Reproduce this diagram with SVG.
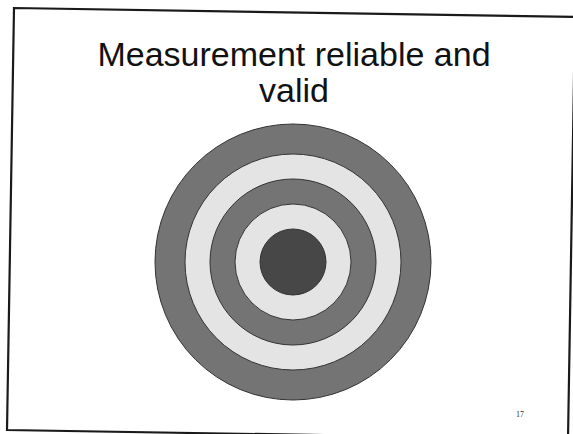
<svg xmlns="http://www.w3.org/2000/svg" width="573" height="434" viewBox="0 0 573 434">
<style>
.title{font-family:"Liberation Sans",Arial,sans-serif;font-size:34px;fill:#111;text-anchor:middle}
.ring{stroke:#333;stroke-width:1}
.dark{fill:#747474}
.light{fill:#e4e4e4}
</style>
<rect width="573" height="434" fill="#fff"/>
<polygon id="frame" points="14,8 575,17 568,439 7,430" fill="none" stroke="#1a1a1a" stroke-width="2.2"/>
<g id="title">
<text class="title" x="294" y="66">Measurement reliable and</text>
<text class="title" x="294" y="102">valid</text>
</g>
<g id="target">
<circle class="ring dark" cx="293" cy="262" r="138"/>
<circle class="ring light" cx="293" cy="262" r="108"/>
<circle class="ring dark" cx="293" cy="262" r="83"/>
<circle class="ring light" cx="293" cy="262" r="58"/>
<circle class="ring" cx="293" cy="262" r="33" fill="#474747"/>
</g>
<text id="page" x="516" y="417" font-family="Liberation Serif,serif" font-size="8" fill="#333">17</text>
</svg>
